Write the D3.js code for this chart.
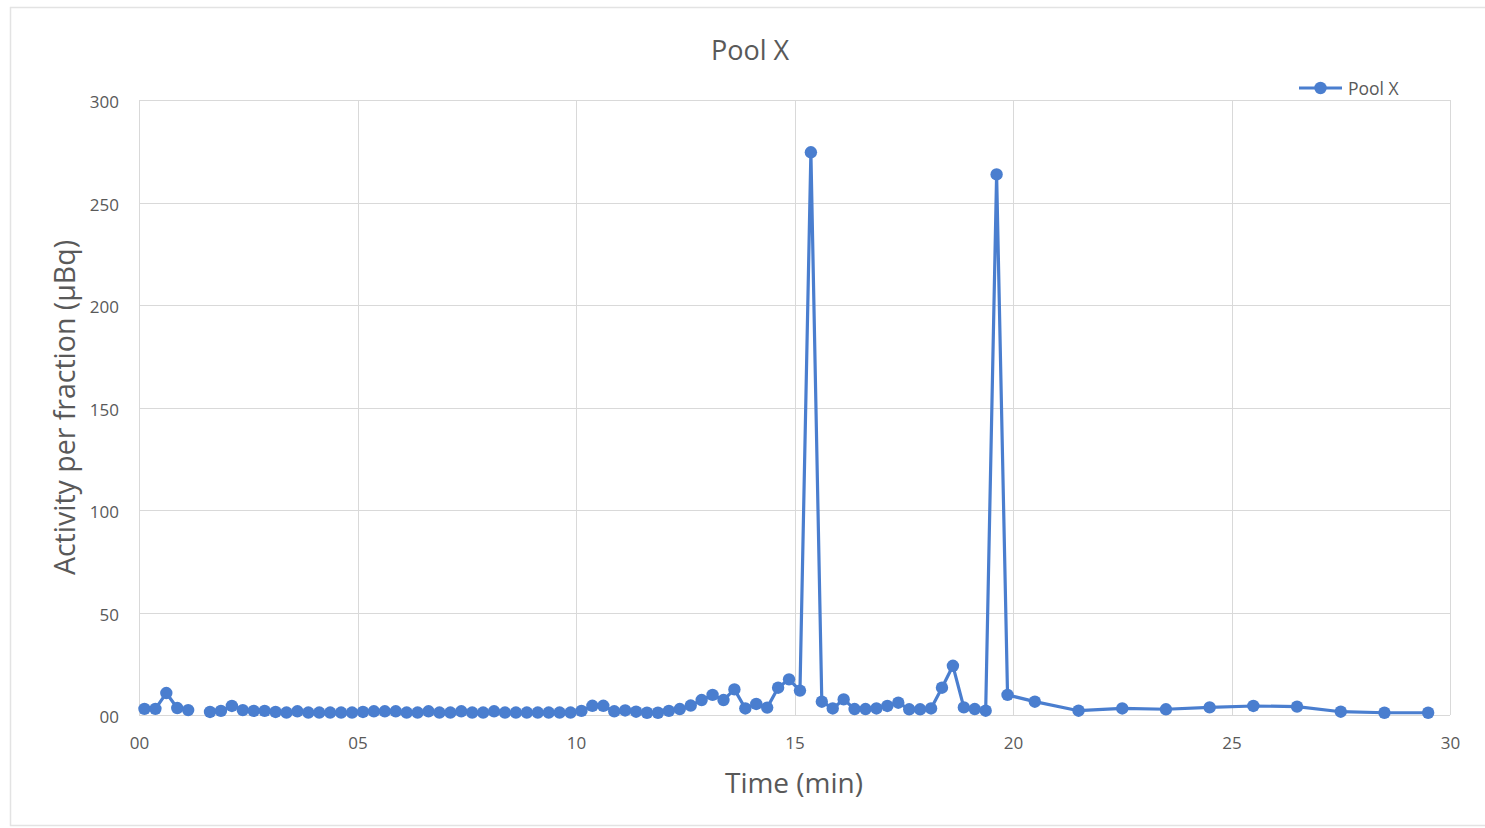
<!DOCTYPE html>
<html>
<head>
<meta charset="utf-8">
<script src="https://cdn.jsdelivr.net/npm/d3@7"></script>
<style>
  html, body { margin: 0; padding: 0; background: #fff; }
  svg { display: block; }
  text { font-family: "Open Sans", "Noto Sans", sans-serif; }
</style>
</head>
<body>
<svg id="chart" width="1485" height="828"></svg>
<script>
// Fraction mid-times (min) and measured activity (µBq); null = fraction not measured
const times = [
  0.125, 0.375, 0.625, 0.875, 1.125, 1.375, 1.625, 1.875, 2.125, 2.375,
  2.625, 2.875, 3.125, 3.375, 3.625, 3.875, 4.125, 4.375, 4.625, 4.875,
  5.125, 5.375, 5.625, 5.875, 6.125, 6.375, 6.625, 6.875, 7.125, 7.375,
  7.625, 7.875, 8.125, 8.375, 8.625, 8.875, 9.125, 9.375, 9.625, 9.875,
  10.125, 10.375, 10.625, 10.875, 11.125, 11.375, 11.625, 11.875, 12.125, 12.375,
  12.625, 12.875, 13.125, 13.375, 13.625, 13.875, 14.125, 14.375, 14.625, 14.875,
  15.125, 15.375, 15.625, 15.875, 16.125, 16.375, 16.625, 16.875, 17.125, 17.375,
  17.625, 17.875, 18.125, 18.375, 18.625, 18.875, 19.125, 19.375, 19.625, 19.875,
  20.5, 21.5, 22.5, 23.5, 24.5, 25.5, 26.5, 27.5, 28.5, 29.5
];
const activity = [
  3.0, 3.0, 10.7, 3.4, 2.4, null, 1.5, 2.0, 4.4, 2.4,
  2.0, 2.0, 1.5, 1.2, 1.8, 1.2, 1.2, 1.2, 1.2, 1.2,
  1.5, 1.8, 1.8, 1.8, 1.2, 1.2, 1.8, 1.2, 1.2, 1.8,
  1.2, 1.2, 1.8, 1.2, 1.2, 1.2, 1.2, 1.2, 1.2, 1.2,
  2.0, 4.5, 4.5, 1.8, 2.2, 1.6, 1.1, 1.1, 2.0, 2.9,
  4.6, 7.3, 9.8, 7.3, 12.5, 3.2, 5.4, 3.6, 13.3, 17.4,
  11.9, 274.5, 6.5, 3.2, 7.6, 2.9, 2.9, 3.2, 4.4, 6.0,
  2.8, 2.8, 3.2, 13.3, 24.0, 3.7, 2.9, 2.1, 263.7, 9.8,
  6.5, 2.1, 3.2, 2.8, 3.7, 4.4, 4.1, 1.6, 1.1, 1.1
];
const xTicks = [0, 5, 10, 15, 20, 25, 30];
const yTicks = [0, 50, 100, 150, 200, 250, 300];
const seriesName = "Pool X";

const points = times.map((t, i) => ({ t, v: activity[i] }));

const svg = d3.select("#chart");
const plot = { left: 139, right: 1450, top: 100, bottom: 715 };
const lineColor = "#4a7ecf";
const gridColor = "#d9d9d9";
const labelColor = "#595959";

// Outer chart frame
svg.append("rect")
  .attr("x", 10.5).attr("y", 7.5)
  .attr("width", 1490).attr("height", 818)
  .attr("fill", "#fff")
  .attr("stroke", "#e3e3e3").attr("stroke-width", 1.5);

const x = d3.scaleLinear().domain([0, 30]).range([plot.left, plot.right]);
const y = d3.scaleLinear().domain([0, 300]).range([plot.bottom, plot.top]);

const pad2 = d => String(d).padStart(2, "0");

// Gridlines
svg.append("g")
  .selectAll("line")
  .data(yTicks)
  .join("line")
  .attr("x1", plot.left).attr("x2", plot.right)
  .attr("y1", d => Math.round(y(d)) + 0.5).attr("y2", d => Math.round(y(d)) + 0.5)
  .attr("stroke", gridColor).attr("stroke-width", 1);

svg.append("g")
  .selectAll("line")
  .data(xTicks)
  .join("line")
  .attr("x1", d => Math.round(x(d)) + 0.5).attr("x2", d => Math.round(x(d)) + 0.5)
  .attr("y1", plot.top).attr("y2", plot.bottom)
  .attr("stroke", gridColor).attr("stroke-width", 1);

// Axes (labels only; lines come from the grid)
const xAxis = svg.append("g")
  .attr("transform", `translate(0,${plot.bottom})`)
  .call(d3.axisBottom(x).tickValues(xTicks).tickFormat(pad2).tickSize(0).tickPadding(22));
xAxis.select(".domain").remove();
xAxis.selectAll("text").attr("fill", labelColor).style("font-size", "17px");

const yAxis = svg.append("g")
  .attr("transform", `translate(${plot.left},0)`)
  .call(d3.axisLeft(y).tickValues(yTicks).tickFormat(pad2).tickSize(0).tickPadding(20));
yAxis.select(".domain").remove();
yAxis.selectAll("text").attr("fill", labelColor).style("font-size", "17px")
  .attr("dy", "0.45em");

// Series line and markers
const line = d3.line()
  .defined(d => d.v !== null)
  .x(d => x(d.t))
  .y(d => y(d.v));

svg.append("path")
  .datum(points)
  .attr("fill", "none")
  .attr("stroke", lineColor)
  .attr("stroke-width", 3.2)
  .attr("stroke-linejoin", "round")
  .attr("d", line);

svg.append("g")
  .selectAll("circle")
  .data(points.filter(d => d.v !== null))
  .join("circle")
  .attr("cx", d => x(d.t))
  .attr("cy", d => y(d.v))
  .attr("r", 6.2)
  .attr("fill", lineColor);

// Titles
svg.append("text")
  .attr("x", 750).attr("y", 60)
  .attr("text-anchor", "middle")
  .attr("fill", labelColor)
  .style("font-size", "27px")
  .text(seriesName);

svg.append("text")
  .attr("x", 794).attr("y", 793)
  .attr("text-anchor", "middle")
  .attr("fill", labelColor)
  .style("font-size", "28px")
  .text("Time (min)");

svg.append("text")
  .attr("transform", `translate(75,${(plot.top + plot.bottom) / 2}) rotate(-90)`)
  .attr("text-anchor", "middle")
  .attr("fill", labelColor)
  .style("font-size", "28.5px")
  .text("Activity per fraction (µBq)");

// Legend
const legend = svg.append("g").attr("transform", "translate(1299,88)");
legend.append("line")
  .attr("x1", 0).attr("x2", 43).attr("y1", 0).attr("y2", 0)
  .attr("stroke", lineColor).attr("stroke-width", 3.2);
legend.append("circle")
  .attr("cx", 21.5).attr("cy", 0).attr("r", 6.2).attr("fill", lineColor);
legend.append("text")
  .attr("x", 49).attr("y", 6.5)
  .attr("fill", labelColor)
  .style("font-size", "17.5px")
  .text(seriesName);
</script>
</body>
</html>
